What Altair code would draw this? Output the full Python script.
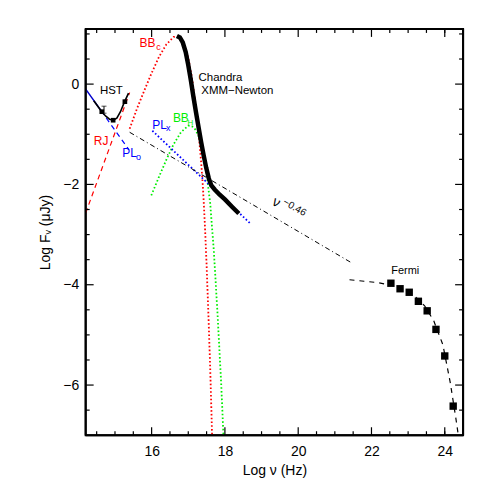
import altair as alt
import pandas as pd

FONT = "Liberation Sans"
XDOM = [14.2, 24.5]
YDOM = [-7.0, 1.1]
W, H = 379, 408

# ---------------- data ----------------
plo_solid_x = [14.2, 14.62]
plo_solid_y = [-0.10, -0.53]
plo_dash_x = [14.62, 15.38]
plo_dash_y = [-0.53, -1.31]

hst_curve_x = [14.42, 14.55, 14.65, 14.75, 14.85, 14.95, 15.05, 15.15, 15.25, 15.37]
hst_curve_y = [-0.33, -0.46, -0.56, -0.64, -0.70, -0.72, -0.68, -0.55, -0.37, -0.18]
hst_pts_x = [14.64, 14.95, 15.27]
hst_pts_y = [-0.55, -0.72, -0.35]
hst_err_x = [14.70]
hst_err_lo = [-0.58]
hst_err_hi = [-0.44]

rj_x = [14.2, 15.4]
rj_y = [-2.57, -0.17]

bbc_x = [15.4, 15.6, 15.8, 16.0, 16.2, 16.4, 16.6, 16.7, 16.8, 16.9, 17.0, 17.1,
         17.2, 17.3, 17.35, 17.4, 17.45, 17.5, 17.55, 17.6, 17.65]
bbc_y = [-0.89, -0.49, -0.13, 0.22, 0.54, 0.79, 0.94, 0.95, 0.90, 0.76, 0.52, 0.14,
         -0.41, -1.12, -1.55, -2.05, -2.75, -3.60, -4.60, -5.70, -7.0]

bbh_x = [15.99, 16.2, 16.4, 16.6, 16.8, 17.0, 17.1, 17.2, 17.3, 17.4, 17.5, 17.6,
         17.7, 17.8, 17.9, 17.96]
bbh_y = [-2.22, -1.85, -1.51, -1.20, -0.96, -0.83, -0.84, -0.91, -1.07, -1.35, -1.78,
         -2.39, -3.35, -4.60, -6.0, -7.0]

plx_x = [16.02, 18.68]
plx_y = [-0.93, -2.77]

dd_x = [15.4, 21.45]
dd_y = [-0.96, -3.56]

chandra_x = [16.69, 16.77, 16.85, 16.93, 17.0, 17.07, 17.14, 17.21, 17.28, 17.35, 17.42,
             17.49, 17.56, 17.63, 17.72, 17.85, 18.0, 18.2, 18.38]
chandra_y = [0.96, 0.93, 0.83, 0.64, 0.38, 0.08, -0.25, -0.56, -0.86, -1.15, -1.42,
             -1.67, -1.88, -2.02, -2.10, -2.20, -2.30, -2.45, -2.58]

fermi_x = [22.53, 22.78, 23.03, 23.28, 23.52, 23.76, 24.0, 24.23]
fermi_y = [-3.97, -4.08, -4.15, -4.33, -4.52, -4.89, -5.42, -6.42]

fermi_fit_x = [21.4, 21.8, 22.2, 22.6, 22.9, 23.2, 23.45, 23.7, 23.95, 24.15, 24.3, 24.37]
fermi_fit_y = [-3.90, -3.93, -3.96, -4.02, -4.10, -4.24, -4.42, -4.72, -5.20, -5.95, -6.65, -7.0]

# axis ticks
x_major = [16, 18, 20, 22, 24]
x_minor = [14.5, 15, 15.5, 16.5, 17, 17.5, 18.5, 19, 19.5, 20.5, 21, 21.5,
           22.5, 23, 23.5, 24]
y_major = [-6, -4, -2, 0]
y_minor = [-6.5, -5.5, -5, -4.5, -3.5, -3, -2.5, -1.5, -1, -0.5, 0.5, 1.0]

# ---------------- helpers ----------------
X = alt.X("x:Q", scale=alt.Scale(domain=XDOM, nice=False, zero=False),
          axis=alt.Axis(values=x_major, title="Log ν (Hz)", tickSize=0, domain=False,
                        grid=False, labelPadding=9, labelFontSize=14, titleFontSize=14,
                        titleFontWeight="normal", titlePadding=5, format="d",
                        labelFont=FONT, titleFont=FONT, labelColor="black",
                        titleColor="black"))
Y = alt.Y("y:Q", scale=alt.Scale(domain=YDOM, nice=False, zero=False),
          axis=alt.Axis(values=y_major, title="Log Fᵥ (μJy)", tickSize=0, domain=False,
                        grid=False, labelPadding=7, labelFontSize=14, titleFontSize=14,
                        titleFontWeight="normal", titlePadding=10, format="d",
                        labelFont=FONT, titleFont=FONT, labelColor="black",
                        titleColor="black"))


def df(xs, ys):
    return pd.DataFrame({"x": xs, "y": ys})


def line(xs, ys, color, width=1.2, dash=None):
    kw = dict(color=color, strokeWidth=width, clip=True)
    if dash:
        kw["strokeDash"] = dash
    return alt.Chart(df(xs, ys)).mark_line(**kw).encode(x=X, y=Y)


DOT = [1.6, 2.2]
layers = []
layers.append(line(bbc_x, bbc_y, "#ff0000", 1.8, DOT))
layers.append(line(bbh_x, bbh_y, "#00ee00", 1.8, DOT))
layers.append(line(plx_x, plx_y, "#0000ff", 1.8, DOT))
layers.append(line(rj_x, rj_y, "#ff0000", 1.2, [5, 4]))
layers.append(line(plo_dash_x, plo_dash_y, "#0000ff", 1.2, [5, 4]))
layers.append(line(plo_solid_x, plo_solid_y, "#0000cc", 1.5))
layers.append(line(dd_x, dd_y, "black", 1.0, [5, 3, 1, 3]))
layers.append(line(hst_curve_x, hst_curve_y, "black", 1.6))
layers.append(line(chandra_x, chandra_y, "black", 4.5))
layers.append(line(fermi_fit_x, fermi_fit_y, "black", 1.2, [5, 5]))

layers.append(alt.Chart(df(fermi_x, fermi_y)).mark_square(size=55, color="black", opacity=1)
              .encode(x=X, y=Y))
layers.append(alt.Chart(df(hst_pts_x, hst_pts_y)).mark_square(size=22, color="black", opacity=1)
              .encode(x=X, y=Y))
err = pd.DataFrame({"x": hst_err_x, "y": hst_err_lo, "y2": hst_err_hi})
layers.append(alt.Chart(err).mark_rule(color="black", strokeWidth=1).encode(x=X, y=Y, y2="y2:Q"))
caps = pd.DataFrame({"x": hst_err_x * 2, "y": hst_err_lo + hst_err_hi})
layers.append(alt.Chart(caps).mark_tick(orient="horizontal", size=5, thickness=1, color="black")
              .encode(x=X, y=Y))

# frame ticks (inward)
def xticks(vals, length):
    d = pd.DataFrame({"x": vals})
    bot = alt.Chart(d).mark_rule(color="black", strokeWidth=1.2).encode(
        x=X, y=alt.value(H), y2=alt.value(H - length))
    top = alt.Chart(d).mark_rule(color="black", strokeWidth=1.2).encode(
        x=X, y=alt.value(0), y2=alt.value(length))
    return [bot, top]


def yticks(vals, length):
    d = pd.DataFrame({"y": vals})
    left = alt.Chart(d).mark_rule(color="black", strokeWidth=1.2).encode(
        y=Y, x=alt.value(0), x2=alt.value(length))
    right = alt.Chart(d).mark_rule(color="black", strokeWidth=1.2).encode(
        y=Y, x=alt.value(W), x2=alt.value(W - length))
    return [left, right]


layers += xticks(x_major, 8) + xticks(x_minor, 4) + yticks(y_major, 8) + yticks(y_minor, 4)

# frame (black box around the plot area)
one = pd.DataFrame({"k": [0]})
frame = [
    alt.Chart(one).mark_rule(color="black", strokeWidth=2).encode(
        x=alt.value(0), x2=alt.value(W), y=alt.value(0)),
    alt.Chart(one).mark_rule(color="black", strokeWidth=2).encode(
        x=alt.value(0), x2=alt.value(W), y=alt.value(H)),
    alt.Chart(one).mark_rule(color="black", strokeWidth=2).encode(
        x=alt.value(0), y=alt.value(0), y2=alt.value(H)),
    alt.Chart(one).mark_rule(color="black", strokeWidth=2).encode(
        x=alt.value(W), y=alt.value(0), y2=alt.value(H)),
]
layers += frame

# annotations
def text(t, x, y, color, size, align="center", angle=0):
    d = pd.DataFrame({"x": [x], "y": [y], "t": [t]})
    return alt.Chart(d).mark_text(color=color, fontSize=size, align=align, baseline="middle",
                                  font=FONT, angle=angle).encode(x=X, y=Y, text="t:N")


layers += [
    text("HST", 14.90, -0.14, "black", 11.5),
    text("RJ", 14.62, -1.14, "#ff0000", 12),
    text("PL", 15.20, -1.38, "#0000ff", 12, "left"),
    text("o", 15.64, -1.46, "#0000ff", 9),
    text("BB", 15.67, 0.81, "#ff0000", 12, "left"),
    text("c", 16.19, 0.73, "#ff0000", 9),
    text("PL", 16.02, -0.81, "#0000ff", 12, "left"),
    text("x", 16.45, -0.88, "#0000ff", 9),
    text("BB", 16.58, -0.68, "#00ee00", 12, "left"),
    text("H", 17.06, -0.78, "#00ee00", 8),
    text("Chandra", 17.88, 0.12, "black", 11.5),
    text("XMM−Newton", 18.34, -0.13, "black", 11.5),
    text("Fermi", 22.92, -3.73, "black", 11),
    text("ν", 19.40, -2.36, "black", 14, angle=30),
    text("−0.46", 19.90, -2.46, "black", 10, angle=30),
]

chart = alt.layer(*layers).properties(
    width=W, height=H,
    padding={"left": 78, "top": 20, "right": 20, "bottom": 55},
    autosize=alt.AutoSizeParams(type="none"),
    background="white",
).configure_view(stroke="#000000", strokeWidth=2, strokeOpacity=1)

chart.save("out.html", embed_options={"renderer": "svg", "actions": False})
